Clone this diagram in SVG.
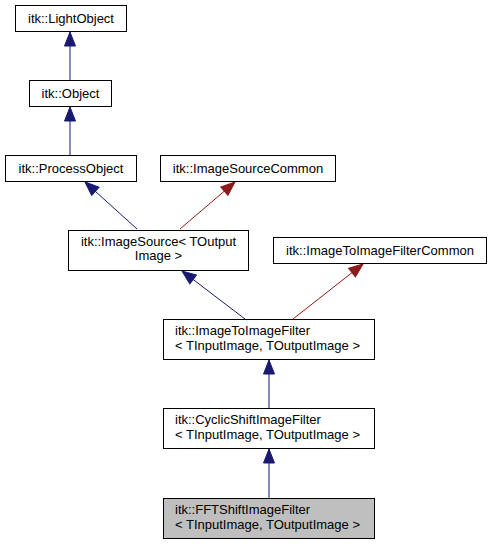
<svg xmlns="http://www.w3.org/2000/svg" width="492" height="544" viewBox="0 0 492 544">
<style>
.n rect{fill:#fff;stroke:#000;stroke-width:1}
.n.cur rect{fill:#bfbfbf}
text{font-family:"Liberation Sans",Arial,sans-serif;font-size:13px;fill:#000}
.c{text-anchor:middle}
.b{stroke:#191970;stroke-width:1;fill:none}
.r{stroke:#8b1a1a;stroke-width:1;fill:none}
</style>
<defs>
<marker id="ab" markerUnits="userSpaceOnUse" orient="auto" markerWidth="16" markerHeight="14" refX="14" refY="6" viewBox="0 0 16 14" overflow="visible">
<path d="M14,6 L0,0.5 L0,11.5 z" fill="#191970" stroke="#191970"/>
</marker>
<marker id="ar" markerUnits="userSpaceOnUse" orient="auto" markerWidth="16" markerHeight="14" refX="14" refY="6" viewBox="0 0 16 14" overflow="visible">
<path d="M14,6 L0,0.5 L0,11.5 z" fill="#8b1a1a" stroke="#8b1a1a"/>
</marker>
</defs>
<rect width="492" height="544" fill="#fff"/>
<g id="edges">
<path class="b" d="M70,80 L70,32" marker-end="url(#ab)"/>
<path class="b" d="M70,155 L70,107" marker-end="url(#ab)"/>
<path class="b" d="M137,229 L85,182" marker-end="url(#ab)"/>
<path class="r" d="M180,229 L235,182" marker-end="url(#ar)"/>
<path class="b" d="M245,319 L182,271" marker-end="url(#ab)"/>
<path class="r" d="M293,319 L363,264" marker-end="url(#ar)"/>
<path class="b" d="M269,408 L269,360" marker-end="url(#ab)"/>
<path class="b" d="M269,498 L269,449" marker-end="url(#ab)"/>
</g>
<g id="n_lightobject" class="n"><rect x="15.5" y="5.5" width="111" height="26"/><text class="c" x="71" y="22.5">itk::LightObject</text></g>
<g id="n_object" class="n"><rect x="29.5" y="80.5" width="82" height="26"/><text class="c" x="70.5" y="97.5">itk::Object</text></g>
<g id="n_processobject" class="n"><rect x="5.5" y="155.5" width="131" height="26"/><text class="c" x="71" y="172.5">itk::ProcessObject</text></g>
<g id="n_imagesourcecommon" class="n"><rect x="160.5" y="155.5" width="175" height="26"/><text class="c" x="248" y="172.5">itk::ImageSourceCommon</text></g>
<g id="n_imagesource" class="n"><rect x="68.5" y="230.5" width="180" height="40"/><text class="c" x="158.5" y="245.5">itk::ImageSource&lt; TOutput</text><text class="c" x="158.5" y="260">Image &gt;</text></g>
<g id="n_imagetoimagefiltercommon" class="n"><rect x="273.5" y="237.5" width="213" height="26"/><text class="c" x="380" y="254.5">itk::ImageToImageFilterCommon</text></g>
<g id="n_imagetoimagefilter" class="n"><rect x="163.5" y="319.5" width="211" height="40"/><text x="175" y="335">itk::ImageToImageFilter</text><text x="175" y="349.5">&lt; TInputImage, TOutputImage &gt;</text></g>
<g id="n_cyclicshift" class="n"><rect x="163.5" y="408.5" width="211" height="40"/><text x="175" y="424">itk::CyclicShiftImageFilter</text><text x="175" y="438.5">&lt; TInputImage, TOutputImage &gt;</text></g>
<g id="n_fftshift" class="n cur"><rect x="163.5" y="498.5" width="211" height="40"/><text x="175" y="514">itk::FFTShiftImageFilter</text><text x="175" y="528.5">&lt; TInputImage, TOutputImage &gt;</text></g>
</svg>
